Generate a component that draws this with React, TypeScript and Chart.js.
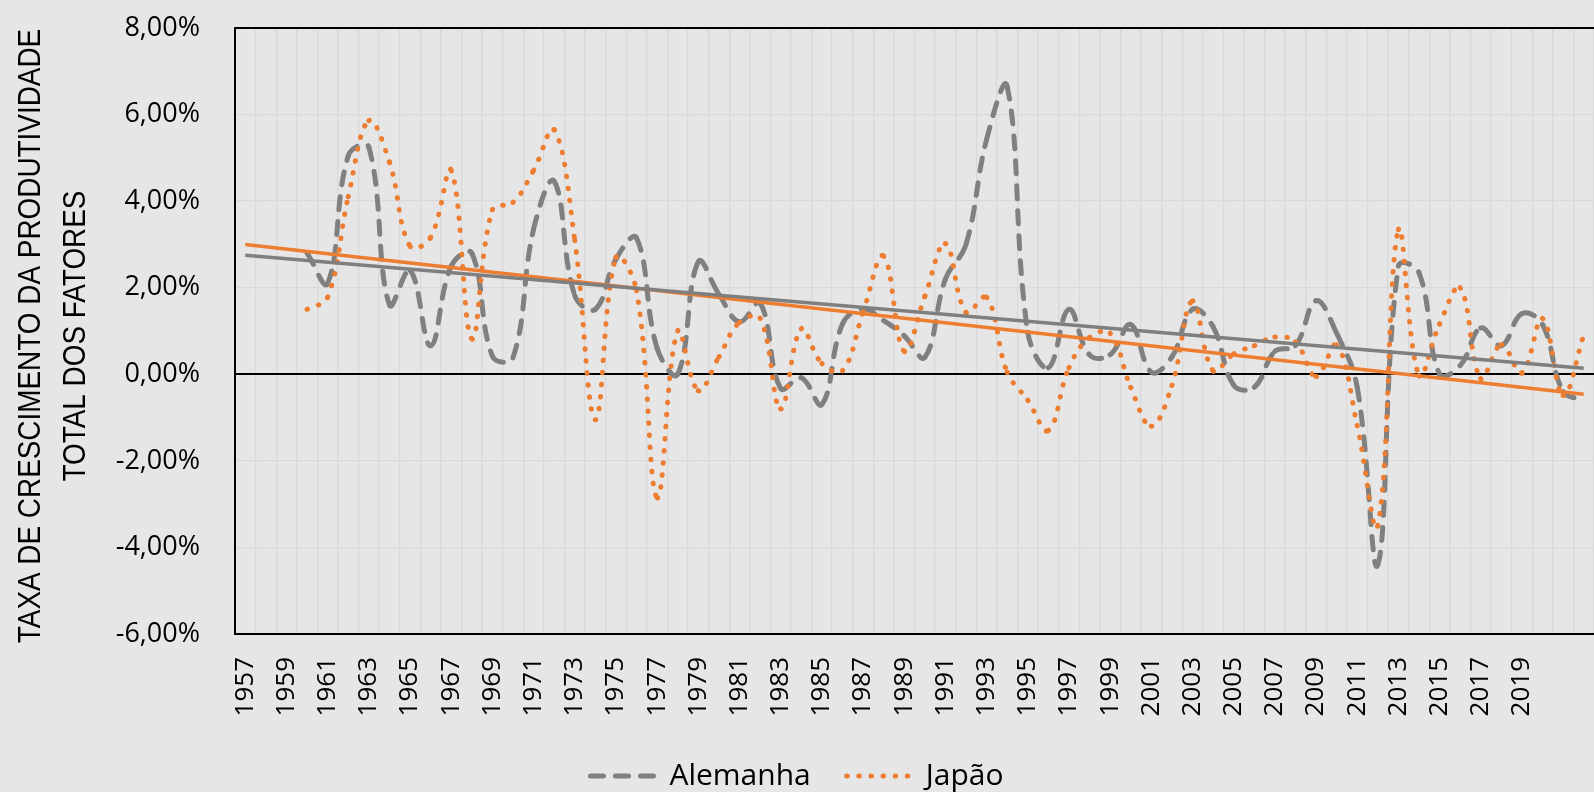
import React, { useEffect, useRef } from 'react';
import { Chart, registerables } from 'chart.js';

Chart.register(...registerables);

// Category axis (years)
const years = [
  1957, 1958, 1959, 1960, 1961, 1962, 1963, 1964, 1965, 1966,
  1967, 1968, 1969, 1970, 1971, 1972, 1973, 1974, 1975, 1976,
  1977, 1978, 1979, 1980, 1981, 1982, 1983, 1984, 1985, 1986,
  1987, 1988, 1989, 1990, 1991, 1992, 1993, 1994, 1995, 1996,
  1997, 1998, 1999, 2000, 2001, 2002, 2003, 2004, 2005, 2006,
  2007, 2008, 2009, 2010, 2011, 2012, 2013, 2014, 2015, 2016,
  2017, 2018, 2019, 2020, 2021, 2022,
];
// every second year is labelled, last labelled year on the axis
const labelStep = 2;
const lastLabelledYear = 2019;

// TFP growth rate, % per year
const alemanha = [
  null, null, null, 2.8, 2.1, 5.05, 5.25, 1.6, 2.4, 0.66,
  2.5, 2.8, 0.42, 0.38, 3.35, 4.46, 1.82, 1.5, 2.66, 3.15,
  0.6, 0.0, 2.6, 1.85, 1.21, 1.65, -0.33, -0.08, -0.7, 1.16,
  1.51, 1.24, 0.89, 0.39, 2.2, 3.0, 5.42, 6.65, 0.97, 0.15,
  1.5, 0.45, 0.45, 1.15, 0.05, 0.4, 1.5, 1.1, -0.25, -0.3,
  0.53, 0.66, 1.7, 0.95, -0.3, -4.4, 2.5, 2.35, 0.0, 0.2,
  1.07, 0.66, 1.4, 1.15, -0.4, -0.6,
];
const japao = [
  null, null, null, 1.5, 1.78, 4.1, 5.86, 4.9, 2.96, 3.16,
  4.71, 0.82, 3.8, 3.97, 4.71, 5.65, 3.1, -1.05, 2.7, 1.94,
  -2.85, 1.0, -0.38, 0.4, 1.2, 1.3, -0.8, 1.05, 0.25, 0.08,
  1.43, 2.73, 0.53, 1.8, 3.02, 1.43, 1.78, 0.05, -0.6, -1.3,
  0.15, 0.85, 0.95, -0.3, -1.2, -0.26, 1.69, 0.08, 0.47, 0.66,
  0.86, 0.75, -0.05, 0.68, -1.18, -3.5, 3.34, -0.03, 1.16, 2.0,
  -0.1, 0.68, 0.03, 1.29, -0.49, 0.9,
];
// linear trend lines: value at first and last category
const trendAlemanhaEnds = [2.75, 0.14];
const trendJapaoEnds = [3.0, -0.46];

const yTicks = { min: -6, max: 8, step: 2 };
const yTitle = ['TAXA DE CRESCIMENTO DA PRODUTIVIDADE', 'TOTAL DOS FATORES'];

const BG = '#E7E6E6';
const GRID = '#D9D9D9';
const GRAY = '#808080';
const ORANGE = '#ED7D31';
const FONT = 'Open Sans';

function endsToSeries(ends: number[]) {
  return years.map((_, i) => (i === 0 ? ends[0] : i === years.length - 1 ? ends[1] : null));
}

// Excel restarts the dash pattern on every segment between two points
const restartDash = (ctx: any) => (ctx.p0DataIndex % 2) * 0.001;

const bgPlugin = {
  id: 'bg',
  beforeDraw(chart: any) {
    const { ctx, width, height } = chart;
    ctx.save();
    ctx.fillStyle = BG;
    ctx.fillRect(0, 0, width, height);
    ctx.restore();
  },
};

// Axis title drawn in a condensed style (narrow font is not installed)
const yTitlePlugin = {
  id: 'yTitleCondensed',
  afterDraw(chart: any) {
    const { ctx, chartArea } = chart;
    const cy = (chartArea.top + chartArea.bottom) / 2 + 5;
    ctx.save();
    ctx.font = '31px "Liberation Sans", Arial, sans-serif';
    ctx.fillStyle = '#000';
    ctx.textAlign = 'center';
    ctx.textBaseline = 'middle';
    yTitle.forEach((line, i) => {
      ctx.save();
      ctx.translate(31 + i * 45, cy);
      ctx.rotate(-Math.PI / 2);
      ctx.scale(0.9, 1);
      ctx.fillText(line, 0, 0);
      ctx.restore();
    });
    ctx.restore();
  },
};

export default function App() {
  const ref = useRef<HTMLCanvasElement | null>(null);

  useEffect(() => {
    if (!ref.current) return;
    const chart = new Chart(ref.current, {
      type: 'line',
      data: {
        labels: years.map(String),
        datasets: [
          {
            label: 'Alemanha',
            data: alemanha,
            borderColor: GRAY,
            backgroundColor: GRAY,
            borderWidth: 5,
            borderDash: [13, 12],
            borderCapStyle: 'round',
            pointRadius: 0,
            pointHoverRadius: 0,
            pointStyle: 'line',
            tension: 0.4,
            fill: false,
            order: 2,
            segment: { borderDashOffset: restartDash },
          },
          {
            label: 'Japão',
            data: japao,
            borderColor: ORANGE,
            backgroundColor: ORANGE,
            borderWidth: 5,
            borderDash: [0.5, 11.6],
            borderCapStyle: 'round',
            pointRadius: 0,
            pointHoverRadius: 0,
            pointStyle: 'line',
            tension: 0.4,
            fill: false,
            order: 1,
            segment: { borderDashOffset: restartDash },
          },
          {
            label: 'Tendência Alemanha',
            data: endsToSeries(trendAlemanhaEnds),
            borderColor: '#7F7F7F',
            borderWidth: 3.5,
            pointRadius: 0,
            spanGaps: true,
            tension: 0,
            fill: false,
            order: 0,
          },
          {
            label: 'Tendência Japão',
            data: endsToSeries(trendJapaoEnds),
            borderColor: ORANGE,
            borderWidth: 3.5,
            pointRadius: 0,
            spanGaps: true,
            tension: 0,
            fill: false,
            order: 0,
          },
        ] as any,
      },
      options: {
        responsive: false,
        animation: false,
        devicePixelRatio: 1,
        layout: { padding: { top: 28, right: 0, bottom: 0, left: 0 } },
        plugins: {
          tooltip: { enabled: false },
          legend: {
            position: 'bottom',
            labels: {
              usePointStyle: true,
              pointStyleWidth: 64,
              padding: 36,
              color: '#000',
              font: { family: FONT, size: 30 },
              filter: (item: any) => item.datasetIndex < 2,
              sort: (a: any, b: any) => a.datasetIndex - b.datasetIndex,
              generateLabels: (ch: any) => {
                const items = (Chart as any).defaults.plugins.legend.labels.generateLabels(ch);
                items.forEach((it: any) => {
                  const ds = ch.data.datasets[it.datasetIndex];
                  it.lineDash = ds.borderDash || [];
                  it.lineWidth = ds.borderWidth;
                  it.lineCap = 'round';
                  it.strokeStyle = ds.borderColor;
                  it.fillStyle = ds.borderColor;
                  it.pointStyle = 'line';
                });
                return items;
              },
            },
          },
        },
        scales: {
          x: {
            type: 'category',
            offset: true,
            grid: { offset: true, color: GRID, lineWidth: 1.3, drawTicks: false },
            border: { display: true, color: '#000', width: 2 },
            ticks: {
              autoSkip: false,
              maxRotation: 90,
              minRotation: 90,
              padding: 23,
              color: '#000',
              font: { family: FONT, size: 26 },
              callback: (_v: any, i: number) =>
                i % labelStep === 0 && years[i] <= lastLabelledYear ? String(years[i]) : '',
            },
            afterFit: (s: any) => {
              s.height = 91;
              s.paddingLeft = 0;
              s.paddingRight = 0;
            },
          },
          y: {
            min: yTicks.min,
            max: yTicks.max,
            grid: {
              drawTicks: false,
              color: (c: any) => (c.tick && (c.tick.value === 0 || c.tick.value === yTicks.max) ? '#000' : GRID),
              lineWidth: (c: any) => (c.tick && (c.tick.value === 0 || c.tick.value === yTicks.max) ? 2 : 1.3),
            },
            border: { display: true, color: '#000', width: 2 },
            ticks: {
              stepSize: yTicks.step,
              padding: 35,
              color: '#000',
              font: { family: FONT, size: 27 },
              callback: (v: any) => Number(v).toFixed(2).replace('.', ',') + '%',
            },
            title: { display: false },
            afterFit: (s: any) => {
              s.width = 235;
              s.paddingTop = 0;
              s.paddingBottom = 0;
            },
          },
        },
      } as any,
      plugins: [bgPlugin, yTitlePlugin],
    });
    return () => chart.destroy();
  }, []);

  return (
    <div
      style={{
        position: 'fixed',
        left: 0,
        top: 0,
        width: 1594,
        height: 792,
        overflow: 'hidden',
        background: BG,
      }}
    >
      <canvas ref={ref} width={1594} height={801} style={{ display: 'block' }} />
    </div>
  );
}
